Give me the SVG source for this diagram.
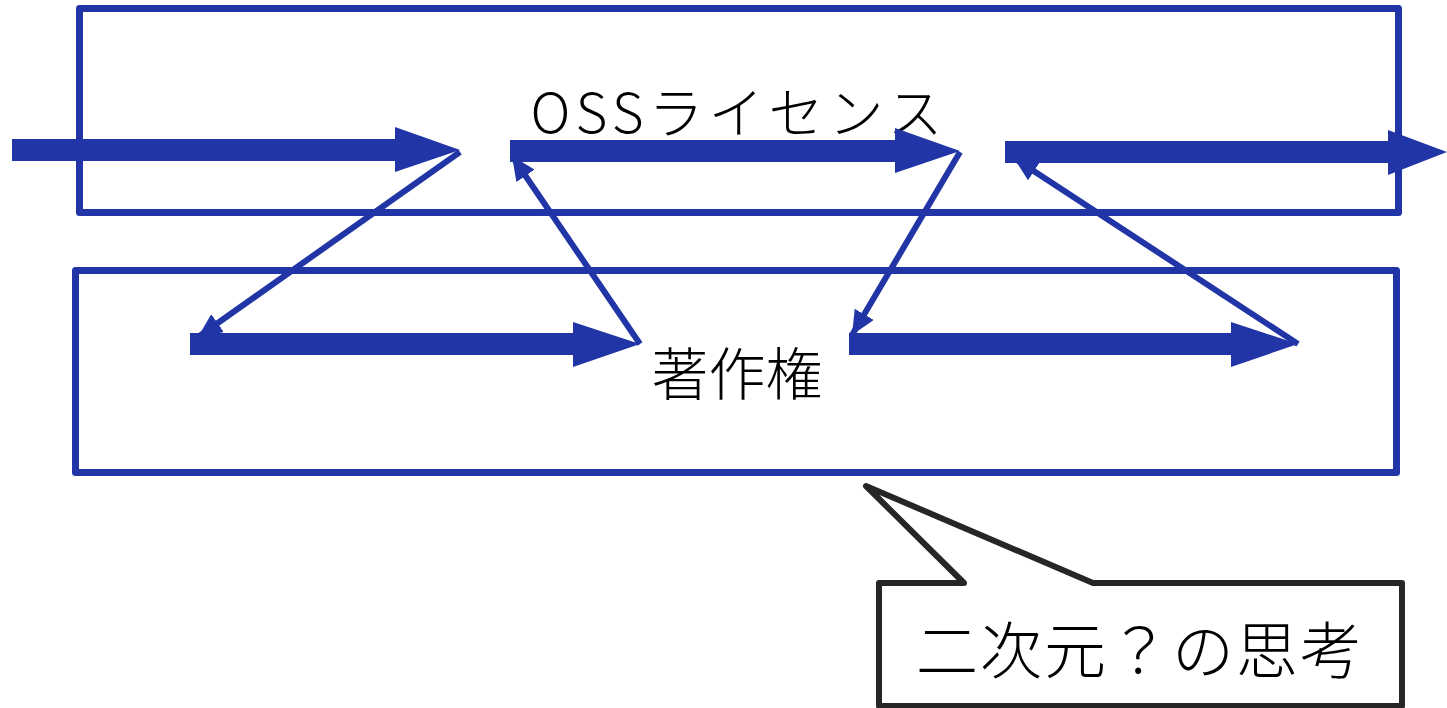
<svg xmlns="http://www.w3.org/2000/svg" width="1447" height="708" viewBox="0 0 1447 708">
<style>
.box{fill:none;stroke:#2135a6;stroke-width:7;stroke-linejoin:round}
.thick{fill:#2135a6;stroke:none}
.thin{fill:none;stroke:#2135a6;stroke-width:6}
.lbl{font-family:"Noto Sans CJK JP","Noto Sans",sans-serif;font-weight:300;fill:#000}
.callout{fill:#fff;stroke:#262626;stroke-width:6;stroke-linejoin:round}
</style>
<defs>
<marker id="ah" markerUnits="userSpaceOnUse" markerWidth="26" markerHeight="22" refX="24" refY="11" orient="auto">
<path d="M0,0 L24,11 L0,22 Z" fill="#2135a6"/>
</marker>
</defs>
<g id="oss">
<rect class="box" x="79.5" y="8.5" width="1319" height="204"/>
<text class="lbl" x="739" y="133" font-size="55" text-anchor="middle" letter-spacing="5">OSSライセンス</text>
</g>
<g id="copyright">
<rect class="box" x="75.5" y="270.5" width="1321" height="202"/>
<text class="lbl" x="737" y="395" font-size="57" text-anchor="middle">著作権</text>
</g>
<g id="connectors">
<path class="thick" d="M12,139 H395 V127 L460,150 L395,172 V161 H12 Z"/>
<path class="thick" d="M510,140 H895 V128 L960,151 L895,173 V162 H510 Z"/>
<path class="thick" d="M1005,141 H1388 V130 L1447,152 L1388,175 V163 H1005 Z"/>
<path class="thick" d="M190,333 H573 V322 L640,344 L573,367 V355 H190 Z"/>
<path class="thick" d="M849,333 H1231 V322 L1298,344 L1231,367 V355 H849 Z"/>
<line class="thin" x1="460" y1="152" x2="198" y2="337" marker-end="url(#ah)"/>
<line class="thin" x1="640" y1="344" x2="512" y2="156" marker-end="url(#ah)"/>
<line class="thin" x1="960" y1="152" x2="852" y2="335" marker-end="url(#ah)"/>
<line class="thin" x1="1298" y1="344" x2="1014" y2="158" marker-end="url(#ah)"/>
</g>
<g id="thought">
<path class="callout" d="M866,486 L1093,583 H1402 V706 H879 V583 H964 Z"/>
<text class="lbl" x="1140" y="674" font-size="62" text-anchor="middle" letter-spacing="2">二次元？の思考</text>
</g>
</svg>
